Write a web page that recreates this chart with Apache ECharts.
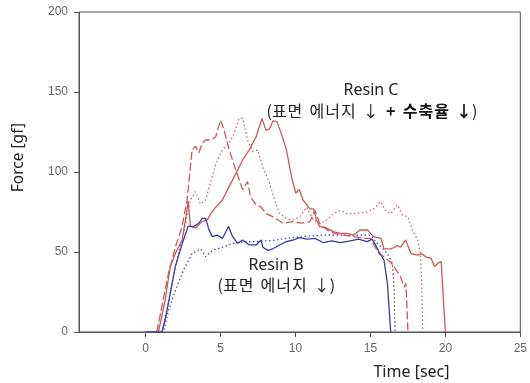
<!DOCTYPE html>
<html><head><meta charset="utf-8">
<script src="https://cdn.jsdelivr.net/npm/echarts@6/dist/echarts.min.js"></script>
<style>html,body{margin:0;padding:0;background:#fff}#c{width:530px;height:383px}</style>
</head><body><div id="c"></div>
<script>
const xTicks = [0, 5, 10, 15, 20, 25];
const yTicks = [0, 50, 100, 150, 200];

const blueSolid = [[0,0],[1.08,0],[1.3,7.5],[1.64,24],[1.98,41],[2.43,55],[2.83,66],[3.21,66],[3.55,68],[3.77,71],[4.0,71],[4.22,64],[4.45,59.6],[4.78,60.6],[5.12,58.5],[5.35,62.7],[5.53,66],[5.8,59.6],[6.13,55.4],[6.47,57.5],[6.92,54.4],[7.37,54.4],[7.7,57.5],[7.82,53],[8.15,51],[8.49,52],[8.94,54.4],[9.39,56.5],[9.84,57.5],[10.29,59],[10.74,58],[11.3,58.5],[11.86,55.8],[12.42,57],[12.98,55.8],[13.66,57],[14.2,58],[14.78,56.5],[15.1,58],[15.34,54.4],[15.57,50],[15.9,45],[16.13,30.4],[16.35,0]];

const blueDotted = [[0,0],[1.19,0],[1.53,13.75],[1.98,26],[2.54,39],[3.1,49],[3.66,52],[4.0,47],[4.45,51],[5.12,53],[6.02,56],[7.14,56.5],[8.27,57],[9.39,58.5],[10.5,59.6],[11.86,60.6],[12.76,60.6],[13.9,60.6],[15.0,60.6],[15.45,55.4],[16.13,49],[16.46,43],[16.58,26],[16.64,0]];

const redSolid = [[0,0],[0.85,0],[1.3,20],[1.64,40.8],[1.98,49],[2.43,57.5],[2.72,74],[2.83,82],[2.99,66],[3.32,65],[3.77,69],[4.11,70],[4.34,74],[4.67,78],[5.12,82.5],[5.57,91],[6.02,99],[6.47,107.5],[6.92,114],[7.37,122],[7.76,133.5],[8.03,126],[8.27,127],[8.49,132],[8.76,131.5],[9.05,124],[9.39,114],[9.73,97],[10.02,86.7],[10.24,89],[10.5,82.5],[10.96,77],[11.2,77],[11.4,70],[11.6,66],[12.08,65],[12.5,62.7],[12.97,61.7],[13.4,61.7],[13.9,60.6],[14.3,63.75],[14.8,63.75],[15.2,59.6],[15.7,58.5],[15.9,52],[16.4,52],[16.8,54],[17.0,53],[17.35,57.5],[17.7,49],[18.15,48],[18.4,49],[18.7,47],[19.05,46],[19.27,41],[19.5,43],[19.72,44],[19.83,26],[20.0,0]];

const redDashed = [[0,0],[0.74,0],[1.08,16],[1.53,37],[1.98,53],[2.43,66],[2.76,82.5],[3.1,114],[3.32,116],[3.55,112],[3.77,118],[4.0,120],[4.34,120],[4.67,122],[5.0,132.5],[5.23,126],[5.57,114],[6.02,101],[6.47,89],[6.8,94],[7.0,84.5],[7.37,79.4],[7.7,78],[8.05,74],[8.5,72],[9.16,68],[9.84,69],[10.4,68],[10.96,69],[11.3,76],[11.6,68],[12.08,64],[12.5,62],[13.2,60.6],[13.9,59.6],[14.55,58.5],[15.0,58.5],[15.2,55],[15.57,49],[15.9,47],[16.4,43],[16.7,39],[17.0,34.6],[17.25,28],[17.36,30.4],[17.4,24],[17.5,0]];

const redDotted = [[0,0],[1.08,0],[1.53,20],[1.98,41],[2.54,61.7],[2.99,82.5],[3.32,87.7],[3.66,80],[4.0,82.5],[4.34,94],[4.67,105],[5.12,114],[5.57,118],[5.9,124],[6.24,133.5],[6.47,133.5],[6.8,120],[7.14,112.7],[7.48,113.75],[7.82,103],[8.27,93],[8.6,82.5],[8.94,74],[9.39,71],[9.84,70],[10.29,72],[10.74,78],[11.19,70],[11.64,68],[12.08,70],[12.53,74],[12.98,76],[13.43,74],[13.88,74],[14.33,74.6],[14.78,75],[15.23,77],[15.68,81.5],[16.0,76],[16.35,74],[16.8,79.4],[17.14,73],[17.5,72],[17.8,63.75],[18.15,57.5],[18.33,49],[18.42,30],[18.49,0]];

const HS = '\u200A';
const labelC1 = 'Resin C';
const labelC2a = '(' + ['표','면'].join(HS) + '  ' + ['에','너','지'].join(HS) + '  ↓  ';
const labelC2b = '+  ' + ['수','축','율'].join(HS) + '  ↓';
const labelB1 = 'Resin B';
const labelB2 = '(' + ['표','면'].join(HS) + '  ' + ['에','너','지'].join(HS) + '  ↓)';

const RED = '#c85a5c', BLUE = '#3b3ba6';
const chart = echarts.init(document.getElementById('c'), null, {renderer: 'canvas'});
function line(data, color, type, w) {
  return {type: 'line', data: data, symbol: 'none', smooth: false, silent: true,
    lineStyle: {color: color, width: w, type: type}};
}
chart.setOption({
  animation: false,
  grid: {left: 79, right: 8, top: 12, bottom: 51, show: true, borderColor: '#555', borderWidth: 1, backgroundColor: 'transparent'},
  xAxis: {type: 'value', min: -4.45, max: 25,
    axisLine: {show: true, onZero: false, lineStyle: {color: '#555'}},
    axisTick: {show: true, length: 5, customValues: xTicks, lineStyle: {color: '#555'}},
    axisLabel: {customValues: xTicks, margin: 11, color: '#666', fontSize: 12, fontFamily: 'Liberation Sans'},
    splitLine: {show: false}},
  yAxis: {type: 'value', min: 0, max: 200, interval: 50,
    axisLine: {show: true, onZero: false, lineStyle: {color: '#555'}},
    axisTick: {show: true, length: 5, customValues: yTicks, lineStyle: {color: '#555'}},
    axisLabel: {customValues: yTicks, margin: 11, color: '#666', fontSize: 12, fontFamily: 'Liberation Sans'},
    splitLine: {show: false}},
  series: [
    line(redDotted, RED, [1.5, 2.5], 1.2),
    line(blueDotted, BLUE, [1.5, 2.5], 1.2),
    line(redDashed, RED, [8, 3], 1.3),
    line(redSolid, RED, 'solid', 1.3),
    line(blueSolid, BLUE, 'solid', 1.3)
  ],
  graphic: [
    {type: 'text', x: 18.5, y: 157.5, rotation: Math.PI / 2, style: {text: 'Force [gf]', fontSize: 15.5, fontFamily: 'Noto Sans', fill: '#222', align: 'center', verticalAlign: 'middle'}},
    {type: 'text', x: 411.5, y: 372, style: {text: 'Time [sec]', fontSize: 16, fontFamily: 'Noto Sans', fill: '#222', align: 'center', verticalAlign: 'middle'}},
    {type: 'text', x: 371, y: 90, style: {text: labelC1, fontSize: 16, fontFamily: 'Noto Sans', fill: '#222', align: 'center', verticalAlign: 'middle'}},
    {type: 'text', x: 372, y: 111, style: {text: '{n|' + labelC2a + '}{b|' + labelC2b + '}{n|)}', align: 'center', verticalAlign: 'middle',
      rich: {n: {fontSize: 16, fontFamily: 'Noto Sans CJK KR', fill: '#222'}, b: {fontSize: 16, fontWeight: 'bold', fontFamily: 'Noto Sans CJK KR', fill: '#111'}}}},
    {type: 'text', x: 276, y: 265, style: {text: labelB1, fontSize: 16, fontFamily: 'Noto Sans', fill: '#222', align: 'center', verticalAlign: 'middle'}},
    {type: 'text', x: 276.4, y: 285, style: {text: labelB2, fontSize: 16, fontFamily: 'Noto Sans CJK KR', fill: '#222', align: 'center', verticalAlign: 'middle'}}
  ]
});
</script></body></html>
